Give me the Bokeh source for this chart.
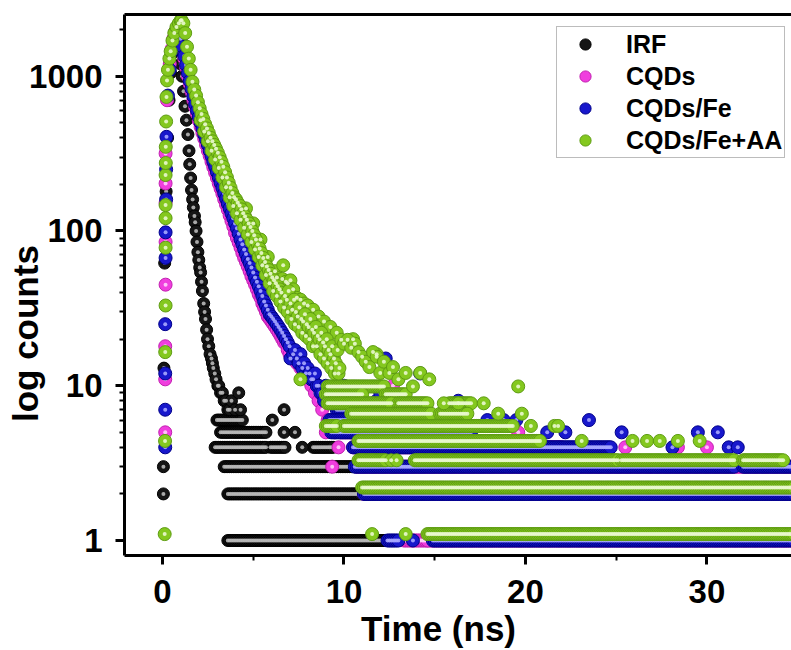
from bokeh.plotting import figure
from bokeh.models import (Range1d, FixedTicker, LinearAxis, Legend, LegendItem, ColumnDataSource,
                          BasicTickFormatter)
from bokeh.embed import file_html
from bokeh.resources import INLINE

# ---------------- data ----------------
series_names = ["IRF", "CQDs", "CQDs/Fe", "CQDs/Fe+AA"]
x_ticks = [0, 10, 20, 30]
x_minor_ticks = [5, 15, 25]
y_ticks = [1, 10, 100, 1000]
x_title = "Time (ns)"
y_title = "log counts"

# instrument channel width (ns) used for the flat low-count baseline rows
CHANNEL_NS = 0.1

# individual readings: (time ns, counts)
irf_points = [
    (0.05, 2), (0.05, 3), (0.08, 13), (0.12, 62), (0.2, 180), (0.28, 400), (0.36, 700),
    (0.44, 1050), (0.52, 1400), (0.6, 1750), (0.68, 1950), (0.76, 2000), (0.84, 1750),
    (0.92, 1500), (1.0, 1200), (1.08, 1000), (1.16, 800), (1.24, 640), (1.32, 520),
    (1.4, 420), (1.46, 330), (1.5, 270), (1.55, 220), (1.6, 184), (1.66, 160), (1.7, 142),
    (1.76, 125), (1.8, 114), (1.85, 100), (1.9, 85), (1.95, 73), (2.0, 65), (2.05, 58),
    (2.1, 54), (2.15, 47), (2.2, 41), (2.27, 34), (2.32, 30), (2.37, 27), (2.43, 23),
    (2.48, 20), (2.55, 18), (2.62, 16), (2.7, 15), (2.75, 14), (2.8, 13), (2.88, 12),
    (2.95, 11), (3.05, 10), (3.1, 10), (3.2, 9), (3.3, 9), (3.4, 8), (3.5, 8), (3.6, 7),
    (3.7, 7), (3.8, 8), (4.0, 7), (4.2, 9), (4.3, 7), (6.05, 6), (6.7, 7), (6.7, 5),
    (7.3, 5), (7.7, 4),
]
# flat rows of equal counts: (start ns, end ns, counts)
irf_runs = [
    (3.0, 4.4, 6), (3.2, 5.7, 5), (2.9, 5.7, 4), (5.95, 6.7, 4), (8.3, 9.4, 4),
    (3.4, 10.7, 3), (3.6, 10.9, 2), (3.6, 12.8, 1),
]

cqds_points = [
    (0.15, 5), (0.15, 11), (0.15, 18), (0.17, 45), (0.17, 85), (0.17, 152), (0.17, 203),
    (0.17, 317), (0.25, 700), (0.4, 1200), (0.5, 1500), (0.6, 1750), (0.7, 1900), (0.8, 1950),
    (0.9, 1850), (1.0, 1700), (1.1, 1500), (1.2, 1300), (1.3, 1140), (1.4, 1000), (1.5, 890),
    (1.6, 790), (1.7, 700), (1.8, 630), (1.9, 570), (2.0, 515), (2.1, 470), (2.2, 430),
    (2.3, 395), (2.4, 360), (2.5, 330), (2.6, 305), (2.7, 280), (2.8, 258), (2.9, 238),
    (3.0, 220), (3.1, 203), (3.2, 188), (3.3, 174), (3.4, 160), (3.5, 148), (3.6, 137),
    (3.7, 126), (3.8, 116), (3.9, 107), (4.0, 97), (4.1, 90), (4.2, 84), (4.3, 78),
    (4.4, 72), (4.5, 67), (4.6, 63), (4.7, 59), (4.8, 55), (4.9, 51), (5.0, 48), (5.1, 45),
    (5.2, 42), (5.3, 39), (5.4, 37), (5.5, 34), (5.6, 32), (5.7, 30), (5.8, 28), (5.9, 27),
    (6.0, 26), (6.1, 25), (6.2, 24), (6.3, 23), (6.4, 22), (6.5, 21), (6.6, 20), (6.7, 19),
    (6.8, 19), (6.9, 17), (7.0, 16), (7.2, 15), (7.4, 14), (7.6, 13), (7.8, 12), (8.0, 11),
    (8.2, 10), (8.4, 9), (8.6, 8), (8.8, 7), (9.0, 5), (9.1, 6), (9.35, 3), (9.5, 5),
    (9.7, 4), (10.0, 6), (10.4, 5), (11.0, 6), (12.7, 10), (19.6, 5), (25.5, 4), (28.4, 4),
    (30.0, 4), (26.9, 3), (14.6, 1),
]
cqds_runs = [(9.8, 16.0, 5), (10.5, 22.0, 4), (10.7, 34.8, 3), (11.1, 34.8, 2), (13.3, 34.8, 1)]

fe_points = [
    (0.15, 4), (0.15, 7), (0.15, 12), (0.15, 25), (0.17, 67), (0.17, 98), (0.2, 160),
    (0.2, 250), (0.22, 406), (0.3, 750), (0.4, 1100), (0.5, 1450), (0.6, 1700), (0.7, 1850),
    (0.8, 1950), (0.9, 1900), (1.0, 1750), (1.1, 1550), (1.2, 1350), (1.3, 1180), (1.4, 1050),
    (1.5, 930), (1.6, 830), (1.7, 740), (1.8, 660), (1.9, 600), (2.0, 545), (2.1, 500),
    (2.2, 460), (2.3, 420), (2.4, 390), (2.5, 360), (2.6, 330), (2.7, 305), (2.8, 280),
    (2.9, 260), (3.0, 240), (3.1, 222), (3.2, 205), (3.3, 190), (3.4, 175), (3.5, 162),
    (3.6, 150), (3.7, 140), (3.8, 130), (3.9, 121), (4.0, 112), (4.1, 104), (4.2, 96),
    (4.3, 88), (4.4, 82), (4.5, 76), (4.6, 71), (4.7, 66), (4.8, 62), (4.9, 58), (5.0, 54),
    (5.1, 50), (5.2, 47), (5.3, 44), (5.4, 41), (5.5, 38), (5.6, 35), (5.7, 33), (5.8, 31),
    (5.9, 29), (6.0, 28), (6.1, 27), (6.2, 26), (6.3, 25), (6.4, 24), (6.5, 23), (6.6, 22),
    (6.7, 21), (6.8, 20), (6.9, 19), (7.0, 18), (7.05, 15), (7.2, 16), (7.3, 17), (7.4, 15),
    (7.5, 14), (7.6, 16), (7.7, 13), (7.8, 14), (7.9, 12), (8.0, 13), (8.1, 12), (8.2, 11),
    (8.3, 11), (8.4, 12), (8.5, 10), (8.6, 10), (8.7, 9), (8.8, 9), (8.9, 8), (9.0, 10),
    (9.1, 8), (9.2, 9), (9.4, 8), (9.6, 9), (9.8, 8), (10.0, 10), (10.2, 8), (10.5, 9),
    (10.8, 7), (11.0, 8), (11.4, 7), (11.8, 8), (12.0, 9), (12.3, 15), (12.6, 7), (13.0, 8),
    (13.5, 7), (14.2, 12), (16.3, 8), (17.9, 6), (18.8, 6), (19.5, 6), (21.2, 5), (22.2, 5),
    (23.5, 6), (25.3, 5), (28.1, 4), (29.5, 5), (30.6, 5), (31.2, 4), (31.7, 4), (13.0, 1),
    (13.8, 1),
]
fe_runs = [
    (9.6, 13.0, 7), (9.2, 16.0, 6), (9.3, 17.0, 5), (10.5, 24.7, 4), (10.6, 31.5, 3),
    (32.0, 34.8, 3), (11.1, 34.8, 2), (12.4, 12.9, 1), (14.9, 34.8, 1),
]

feaa_points = [
    (0.12, 1.1), (0.14, 4.4), (0.15, 16.5), (0.17, 33), (0.17, 78), (0.17, 121), (0.17, 147),
    (0.17, 230), (0.18, 275), (0.18, 350), (0.2, 510), (0.22, 735), (0.25, 940), (0.3, 1100),
    (0.38, 1300), (0.45, 1450), (0.55, 1700), (0.65, 1900), (0.77, 2080), (0.9, 2200),
    (1.0, 2290), (1.05, 2300), (1.15, 2200), (1.25, 1900), (1.35, 1550), (1.45, 1300),
    (1.55, 1100), (1.65, 920), (1.75, 820), (1.85, 750), (1.95, 680), (2.05, 620),
    (2.15, 570), (2.25, 530), (2.35, 490), (2.45, 460), (2.55, 430), (2.65, 400), (2.75, 380),
    (2.85, 360), (2.95, 340), (3.05, 320), (3.15, 300), (3.25, 280), (3.35, 260), (3.45, 240),
    (3.55, 222), (3.65, 205), (3.75, 190), (3.85, 176), (3.95, 165), (4.05, 160), (4.15, 152),
    (4.25, 146), (4.35, 138), (4.45, 130), (4.55, 124), (4.65, 118), (4.75, 112), (4.85, 106),
    (4.95, 100), (5.05, 94), (5.15, 88), (5.25, 82), (5.35, 77), (5.45, 72), (5.55, 67),
    (5.65, 63), (5.75, 59), (5.85, 56), (5.95, 53), (6.05, 50), (6.15, 48), (6.25, 46),
    (6.35, 44), (6.45, 42), (6.55, 40), (6.65, 60), (6.75, 38), (6.85, 36), (6.95, 41),
    (7.05, 34), (7.15, 31), (7.25, 36), (7.35, 30), (7.45, 28), (7.55, 32), (7.6, 11),
    (7.65, 27), (7.75, 26), (7.85, 29), (7.95, 25), (8.05, 24), (8.15, 27), (8.25, 23),
    (8.35, 22), (8.45, 24), (8.55, 21), (8.65, 20), (8.75, 22), (8.85, 19), (8.95, 18),
    (9.05, 20), (9.15, 17), (9.25, 16), (9.35, 18), (9.45, 15), (9.55, 14), (9.65, 17),
    (9.75, 13), (9.85, 19.8), (10.0, 18.7), (10.2, 19.8), (10.4, 17.6), (10.6, 18.7),
    (10.8, 16.5), (11.0, 15.4), (11.2, 14.3), (11.4, 13.2), (11.6, 16.5), (11.8, 15.4),
    (12.0, 12.1), (12.2, 14.3), (12.5, 12.1), (12.7, 13.2), (13.0, 11), (13.4, 12.1),
    (13.8, 9.9), (14.2, 12.1), (14.7, 11), (15.5, 7.7), (16.3, 7.7), (17.7, 7.7), (18.5, 6.6),
    (19.6, 9.9), (19.8, 6.6), (20.3, 5.5), (21.6, 5.5), (21.8, 5.5), (23.1, 4.4), (25.9, 4.4),
    (26.7, 4.4), (27.4, 4.4), (28.4, 4.4), (29.6, 4.4), (11.55, 1.1), (13.4, 1.1),
    (12.6, 3.3), (12.9, 3.3),
]
# further CQDs/Fe+AA readings that give the noisy band its width
feaa_band_points = [
    (2.1, 520), (2.3, 440), (2.5, 380), (2.7, 330), (2.9, 290), (3.1, 255), (3.3, 222),
    (3.5, 192), (3.7, 165), (3.9, 145), (4.1, 130), (4.3, 118), (4.5, 105), (4.7, 95),
    (4.9, 85), (5.1, 76), (5.3, 68), (5.5, 60), (5.7, 52), (5.9, 46), (6.1, 41), (6.3, 38),
    (6.5, 35), (6.7, 32), (6.9, 30), (7.1, 27), (7.3, 25), (7.5, 24), (7.7, 22), (7.9, 21),
    (8.1, 20), (8.3, 18), (8.5, 18), (8.7, 16), (8.9, 15), (9.1, 14), (9.3, 13), (9.5, 12),
    (9.7, 12), (4.6, 140), (5.0, 112), (5.4, 88), (5.8, 68), (6.2, 55), (6.3, 50), (6.6, 49),
    (6.8, 47), (6.9, 46), (7.05, 48), (7.2, 42), (7.4, 37), (7.6, 36), (7.8, 34), (8.0, 33),
    (8.3, 31), (8.6, 28), (8.9, 26), (9.25, 24), (9.6, 22), (10.5, 20), (11.8, 16),
]
feaa_runs = [
    (9.1, 12.2, 9.9), (9.0, 11.0, 8.8), (12.3, 13.4, 8.8), (9.1, 12.6, 7.7), (13.0, 14.6, 7.7),
    (15.8, 17.0, 7.7), (10.4, 14.8, 6.6), (15.3, 16.8, 6.6), (9.0, 9.6, 5.5), (10.0, 19.3, 5.5),
    (10.8, 20.8, 4.4), (10.8, 12.3, 3.3), (13.9, 25.1, 3.3), (25.3, 31.5, 3.3), (32.0, 34.2, 3.3),
    (11.0, 34.8, 2.2), (14.6, 34.8, 1.1),
]

series_points = [irf_points, cqds_points, fe_points, feaa_band_points + feaa_points]
series_runs = [irf_runs, cqds_runs, fe_runs, feaa_runs]

# ---------------- styles ----------------
fill_colors = ["#151515", "#f03ede", "#1818cc", "#84c81f"]
edge_colors = ["#000000", "#c21fb0", "#00008a", "#5e9c12"]
shine_colors = ["#b8b8b8", "#ffd0fa", "#a8a8ff", "#eaf8cf"]
marker_sizes = [12, 13, 13, 13]
FONT = "Liberation Sans"
NBSP = "\u00a0"


def build_xy(points, runs):
    t, c = [], []
    for a, b, lvl in runs:
        n = int(round((b - a) / CHANNEL_NS))
        for k in range(n + 1):
            t.append(round(a + k * CHANNEL_NS, 3))
            c.append(lvl)
    for tt, cc in points:
        t.append(tt)
        c.append(cc)
    return t, c


p = figure(
    width=791, height=650, output_backend="svg", toolbar_location=None,
    x_range=Range1d(-2.094, 34.66), y_range=Range1d(0.8, 2506), y_axis_type="log",
    min_border_left=124, min_border_right=0, min_border_top=14, min_border_bottom=94,
)
p.outline_line_color = None
p.grid.visible = False
p.background_fill_color = "white"
p.border_fill_color = "white"

renderers = []
for i, name in enumerate(series_names):
    t, c = build_xy(series_points[i], series_runs[i])
    src = ColumnDataSource(dict(t=t, c=c))
    r = p.scatter("t", "c", source=src, size=marker_sizes[i], marker="circle",
                  fill_color=fill_colors[i], line_color=edge_colors[i], line_width=1)
    p.scatter("t", "c", source=src, size=4, marker="circle",
              fill_color=shine_colors[i], line_color=None, fill_alpha=0.9)
    renderers.append(r)

# axes
p.xaxis.ticker = FixedTicker(ticks=x_ticks, minor_ticks=x_minor_ticks)
minor_y = [m * d for d in (1, 10, 100, 1000) for m in range(2, 10)]
p.yaxis.ticker = FixedTicker(ticks=y_ticks, minor_ticks=minor_y)
p.yaxis.formatter = BasicTickFormatter()

for ax in (p.xaxis[0], p.yaxis[0]):
    ax.axis_line_width = 3
    ax.axis_line_color = "black"
    ax.major_tick_line_width = 3
    ax.minor_tick_line_width = 2
    ax.major_tick_out = 9
    ax.major_tick_in = 0
    ax.minor_tick_out = 5
    ax.minor_tick_in = 0
    ax.major_label_text_font = FONT
    ax.major_label_text_font_style = "bold"
    ax.major_label_text_font_size = "33px"
    ax.major_label_text_color = "black"
    ax.axis_label_text_font = FONT
    ax.axis_label_text_font_style = "bold"
    ax.axis_label_text_font_size = "35px"
    ax.axis_label_text_color = "black"

# trailing no-break spaces shift the centred titles to where the reference has them
p.xaxis.axis_label = x_title + NBSP * 4
p.yaxis.axis_label = y_title + NBSP * 10
p.xaxis.major_label_standoff = 15
p.xaxis.axis_label_standoff = 3
p.yaxis.major_label_standoff = 13
p.yaxis.axis_label_standoff = -19

top_axis = LinearAxis(ticker=FixedTicker(ticks=[]), axis_line_width=3, axis_line_color="black",
                      major_tick_out=0, major_tick_in=0, minor_tick_out=0, minor_tick_in=0,
                      major_label_text_font_size="0px")
p.add_layout(top_axis, "above")

legend = Legend(
    items=[LegendItem(label=series_names[i], renderers=[renderers[i]]) for i in range(4)],
    location=(432, 397), orientation="vertical",
    label_text_font=FONT, label_text_font_style="bold", label_text_font_size="25px",
    label_text_color="black", border_line_color="#7a7a7a", border_line_width=1,
    background_fill_color="white", background_fill_alpha=1.0,
    padding=2, spacing=2, margin=0, glyph_height=28, glyph_width=52,
    label_height=30, label_standoff=15,
)
p.add_layout(legend)

open("out.html", "w").write(file_html(p, INLINE))
